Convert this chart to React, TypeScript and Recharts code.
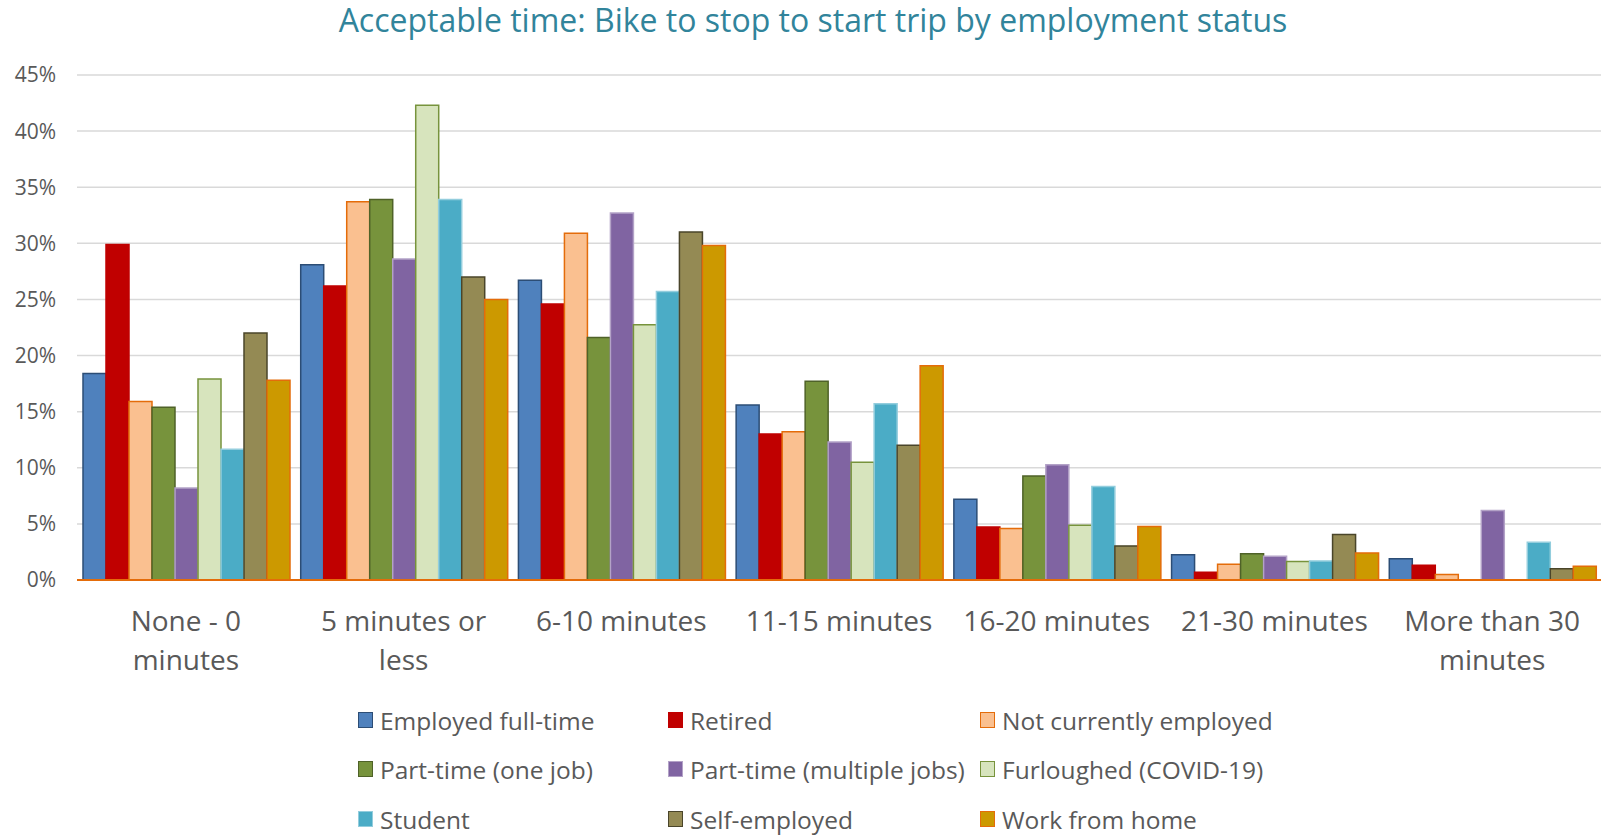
import React from "react";
import { BarChart, Bar, XAxis, YAxis, CartesianGrid } from "recharts";

const categories = [
  "None - 0 minutes",
  "5 minutes or less",
  "6-10 minutes",
  "11-15 minutes",
  "16-20 minutes",
  "21-30 minutes",
  "More than 30 minutes",
];
const categoryLines: string[][] = [
  ["None - 0", "minutes"],
  ["5 minutes or", "less"],
  ["6-10 minutes"],
  ["11-15 minutes"],
  ["16-20 minutes"],
  ["21-30 minutes"],
  ["More than 30", "minutes"],
];

const employedFullTime = [18.4, 28.1, 26.7, 15.6, 7.2, 2.26, 1.9];
const retired = [29.9, 26.2, 24.6, 13.0, 4.73, 0.68, 1.31];
const notCurrentlyEmployed = [15.9, 33.7, 30.9, 13.2, 4.58, 1.4, 0.48];
const partTimeOne = [15.4, 33.9, 21.6, 17.7, 9.26, 2.35, 0];
const partTimeMultiple = [8.2, 28.6, 32.7, 12.3, 10.27, 2.11, 6.19];
const furloughed = [17.9, 42.3, 22.75, 10.5, 4.88, 1.64, 0];
const student = [11.65, 33.9, 25.7, 15.7, 8.33, 1.7, 3.36];
const selfEmployed = [22.0, 27.0, 31.0, 12.0, 3.04, 4.05, 1.01];
const workFromHome = [17.8, 25.0, 29.8, 19.1, 4.76, 2.41, 1.22];

const yTicks = [0, 5, 10, 15, 20, 25, 30, 35, 40, 45];

const seriesNames = [
  "Employed full-time",
  "Retired",
  "Not currently employed",
  "Part-time (one job)",
  "Part-time (multiple jobs)",
  "Furloughed (COVID-19)",
  "Student",
  "Self-employed",
  "Work from home",
];
const seriesValues = [
  employedFullTime,
  retired,
  notCurrentlyEmployed,
  partTimeOne,
  partTimeMultiple,
  furloughed,
  student,
  selfEmployed,
  workFromHome,
];
const seriesFill = ["#4F81BD", "#C00000", "#FAC090", "#77933C", "#8064A2", "#D7E4BD", "#4BACC6", "#948A54", "#CC9900"];
const seriesStroke = ["#2C4D75", "#C00000", "#E46C0A", "#4F6228", "#B3A2C7", "#77933C", "#93CDDD", "#4A452A", "#E46C0A"];

const data = categories.map((c, i) => {
  const row: any = { category: c, idx: i };
  seriesNames.forEach((s, j) => {
    row["s" + j] = seriesValues[j][i];
  });
  return row;
});

const FONT = "'Open Sans', sans-serif";

const CatTick = (props: any) => {
  const { x, y, payload } = props;
  const lines = categoryLines[payload.index] || [payload.value];
  return (
    <g transform={`translate(${x},${y})`}>
      {lines.map((l, i) => (
        <text key={i} x={0} y={0} dy={43 + i * 39} textAnchor="middle" fill="#595959" fontSize={28} fontFamily={FONT}>
          {l}
        </text>
      ))}
    </g>
  );
};

const legendCols = [358, 668, 980];
const legendRows = [720, 769, 819];

export default function App() {
  return (
    <div style={{ position: "absolute", left: 0, top: 0, width: 1606, height: 836, background: "#fff", fontFamily: FONT }}>
      <div
        style={{
          position: "absolute",
          left: 0,
          width: 1626,
          top: -2,
          textAlign: "center",
          color: "#31849B",
          fontSize: 32,
          lineHeight: "44px",
        }}
      >
        Acceptable time: Bike to stop to start trip by employment status
      </div>
      <BarChart
        width={1606}
        height={836}
        data={data}
        margin={{ top: 75, right: 5, bottom: 156, left: 0 }}
        barCategoryGap={6}
        barGap={0}
      >
        <CartesianGrid vertical={false} stroke="#D9D9D9" strokeWidth={1.5} />
        <XAxis
          dataKey="category"
          interval={0}
          height={100}
          tickLine={false}
          axisLine={{ stroke: "#E46C0A", strokeWidth: 2 }}
          tick={<CatTick />}
        />
        <YAxis
          width={77}
          domain={[0, 45]}
          ticks={yTicks}
          interval={0}
          axisLine={false}
          tickLine={false}
          tickFormatter={(v: number) => `${v}%`}
          tick={{ fill: "#595959", fontSize: 21, fontFamily: FONT }}
          tickMargin={15}
        />
        {seriesNames.map((s, j) => (
          <Bar
            key={s}
            dataKey={"s" + j}
            name={s}
            fill={seriesFill[j]}
            stroke={seriesStroke[j]}
            strokeWidth={1.5}
            isAnimationActive={false}
          />
        ))}
      </BarChart>
      {seriesNames.map((s, j) => {
        const col = j % 3;
        const row = Math.floor(j / 3);
        return (
          <div
            key={s}
            style={{
              position: "absolute",
              left: legendCols[col],
              top: legendRows[row] - 17,
              height: 34,
              display: "flex",
              alignItems: "center",
              whiteSpace: "nowrap",
            }}
          >
            <div
              style={{
                width: 13,
                height: 14,
                background: seriesFill[j],
                border: `1.5px solid ${seriesStroke[j]}`,
                marginRight: 7,
              }}
            />
            <span style={{ fontSize: 24.5, color: "#595959" }}>{s}</span>
          </div>
        );
      })}
    </div>
  );
}
